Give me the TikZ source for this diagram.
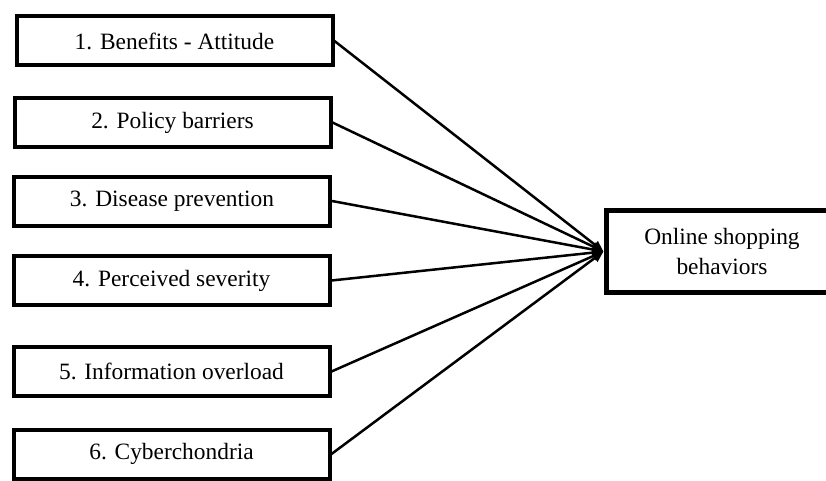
\documentclass[tikz,border=0pt]{standalone}
\usepackage{fontspec}
\setmainfont{Liberation Serif}
\usetikzlibrary{arrows.meta}

\begin{document}
\begin{tikzpicture}[x=1pt,y=-1pt,
    factor/.style={draw,line width=4pt,minimum width=316pt,minimum height=49pt,inner sep=0pt,font=\fontsize{23.4}{28}\selectfont},
    outcome/.style={draw,line width=5pt,minimum width=232pt,minimum height=82pt,inner sep=0pt,align=center,font=\fontsize{23.4}{30}\selectfont},
    link/.style={line width=2.5pt,-{Triangle[length=11pt,width=9pt]}}]
                \useasboundingbox (0,0) rectangle (826,481);
                \node[factor] (F1) at (174.5,41) {1. Benefits - Attitude};
                \node[factor] (F2) at (172.5,122.5) {2. Policy barriers};
                \node[factor] (F3) at (172,201) {3. Disease prevention};
                \node[factor] (F4) at (171.5,280.5) {4. Perceived severity};
                \node[factor] (F5) at (171.5,371.5) {5. Information overload};
                \node[factor] (F6) at (171.5,454) {6. Cyberchondria};
                \node[outcome] (OSB) at (722,251.5) {Online shopping\\behaviors};
                %\draw[link] (F1.east) -- (OSB.north west);
                \draw[link] (F1.east) -- (OSB.west);
                \draw[link] (F2.east) -- (OSB.west);
                \draw[link] (F3.east) -- (OSB.west);
                \draw[link] (F4.east) -- (OSB.west);
                \draw[link] (F5.east) -- (OSB.west);
                \draw[link] (F6.east) -- (OSB.west);
            \end{tikzpicture}
\end{document}
